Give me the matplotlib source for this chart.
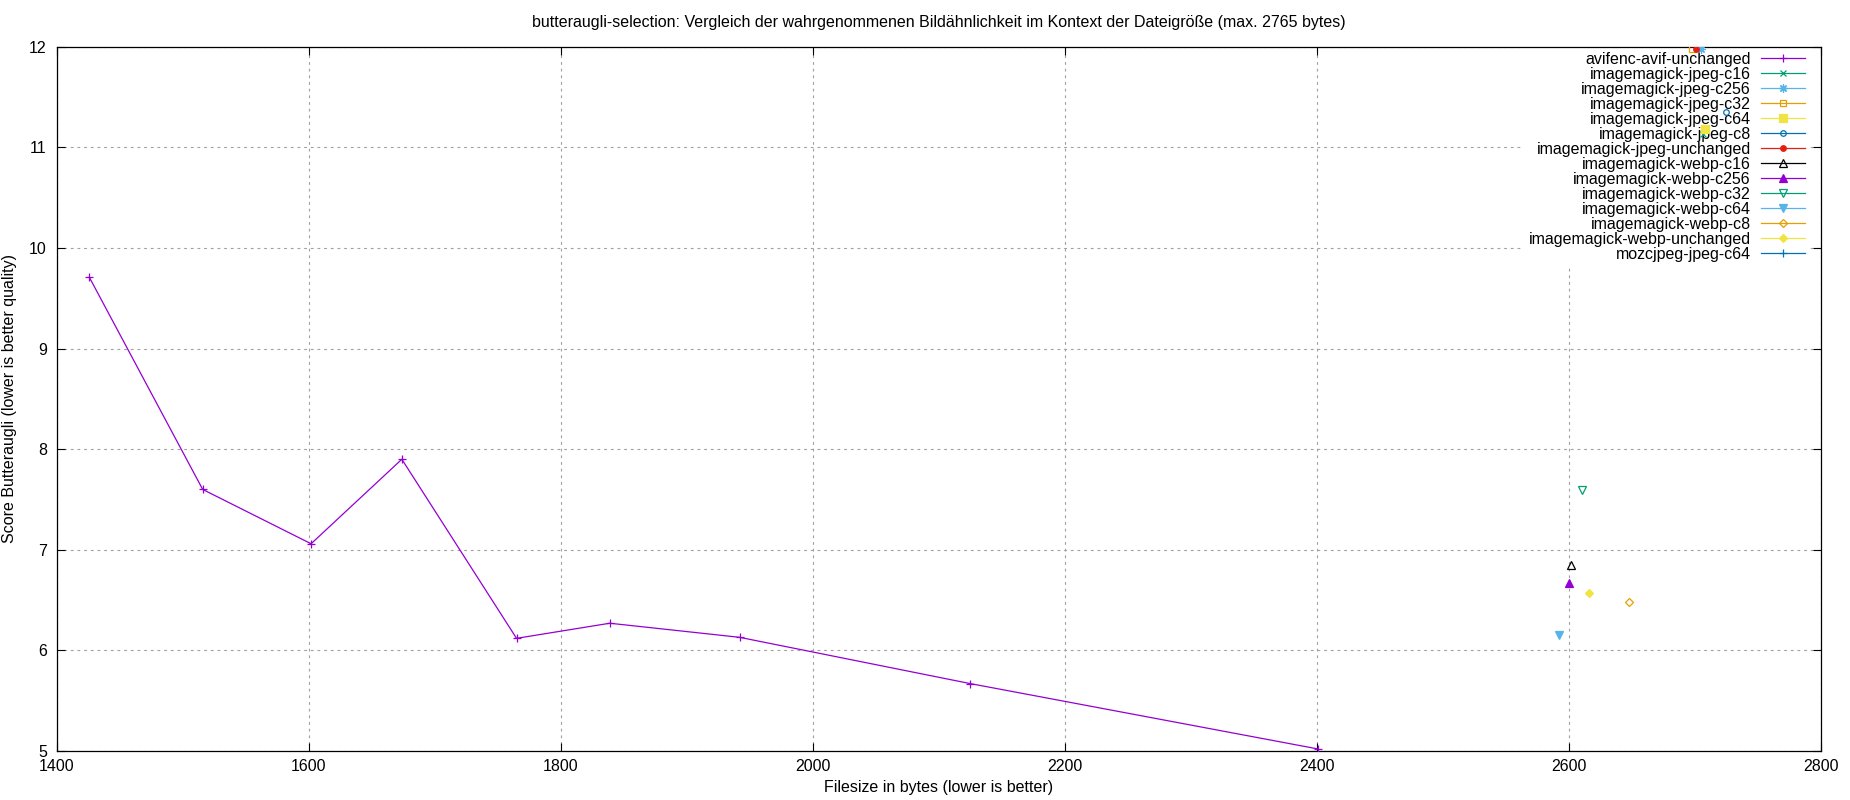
import matplotlib
matplotlib.use("Agg")
from matplotlib import pyplot as plt

plt.rcParams['font.family'] = ['Liberation Sans', 'DejaVu Sans']

title = ("butteraugli-selection: Vergleich der wahrgenommenen Bildähnlichkeit "
         "im Kontext der Dateigröße (max. 2765 bytes)")
xlabel = "Filesize in bytes (lower is better)"
ylabel = "Score Butteraugli (lower is better quality)"

# avifenc series (the only one with several points)
avif_size = [1426, 1516, 1602, 1674, 1765, 1839, 1942, 2125, 2401]
avif_score = [9.71, 7.60, 7.06, 7.90, 6.12, 6.27, 6.13, 5.67, 5.02]

# the other encoders, one point each (mozcjpeg not visible in range)
names = ['avifenc-avif-unchanged',
         'imagemagick-jpeg-c16', 'imagemagick-jpeg-c256', 'imagemagick-jpeg-c32',
         'imagemagick-jpeg-c64', 'imagemagick-jpeg-c8', 'imagemagick-jpeg-unchanged',
         'imagemagick-webp-c16', 'imagemagick-webp-c256', 'imagemagick-webp-c32',
         'imagemagick-webp-c64', 'imagemagick-webp-c8', 'imagemagick-webp-unchanged',
         'mozcjpeg-jpeg-c64']
sizes = [avif_size,
         [2706], [2705], [2698], [2708], [2725], [2701],
         [2602], [2600], [2610], [2592], [2648], [2616],
         []]
scores = [avif_score,
          [11.13], [11.98], [11.98], [11.18], [11.35], [11.98],
          [6.85], [6.67], [7.59], [6.15], [6.48], [6.57],
          []]

# gnuplot default colours / point types
colors = ['#9400d3', '#009e73', '#56b4e9', '#e69f00', '#f0e442', '#0072b2', '#e51e10',
          '#000000', '#9400d3', '#009e73', '#56b4e9', '#e69f00', '#f0e442', '#0072b2']
markers = ['+', 'x', (8, 2, 0), 's', 's', 'o', 'o', '^', '^', 'v', 'v', 'D', 'D', '+']
filled = [True, True, True, False, True, False, True, False, True, False, True, False, True, True]
msizes = [6, 5, 6, 5, 5.5, 4, 4, 5.5, 5.5, 5.5, 5.5, 4, 4, 6]

FS = 11.5

fig = plt.figure(figsize=(18.5, 8), dpi=100)
ax = fig.add_axes([56.5 / 1850, 49 / 800, 1764.5 / 1850, 704.2 / 800])

for x, y, name, c, m, f, ms in zip(sizes, scores, names, colors, markers, filled, msizes):
    ax.plot(x, y, linestyle='-', lw=0.9, color=c, marker=m, ms=ms,
            mfc=c if f else 'none', mec=c, mew=0.9, label=name, zorder=3)

ax.set_xlim(1400, 2800)
ax.set_ylim(5, 12)
ax.set_xticks(range(1400, 2801, 200))
ax.set_yticks(range(5, 13))
ax.tick_params(direction='in', length=6, width=0.8, top=True, right=True,
               labelsize=FS, colors='black')
ax.tick_params(axis='x', pad=6)
ax.tick_params(axis='y', pad=7)
for s in ax.spines.values():
    s.set_linewidth(0.9)

ax.set_axisbelow(True)
ax.grid(True, color='#a0a0a0', lw=0.8, linestyle=(0, (2.5, 3.5)))

ax.set_xlabel(xlabel, fontsize=FS, labelpad=4)
ax.set_ylabel(ylabel, fontsize=FS, labelpad=9)
ax.set_title(title, fontsize=FS, pad=14)

leg = ax.legend(loc='upper right', bbox_to_anchor=(0.9938, 1.0), borderaxespad=0,
                markerfirst=False, fontsize=FS, handlelength=2.8, handletextpad=0.6,
                labelspacing=0.0, borderpad=0.3, frameon=True, fancybox=False,
                framealpha=1, facecolor='white', edgecolor='none')
leg.set_zorder(1)

fig.savefig('out.png', dpi=100)
